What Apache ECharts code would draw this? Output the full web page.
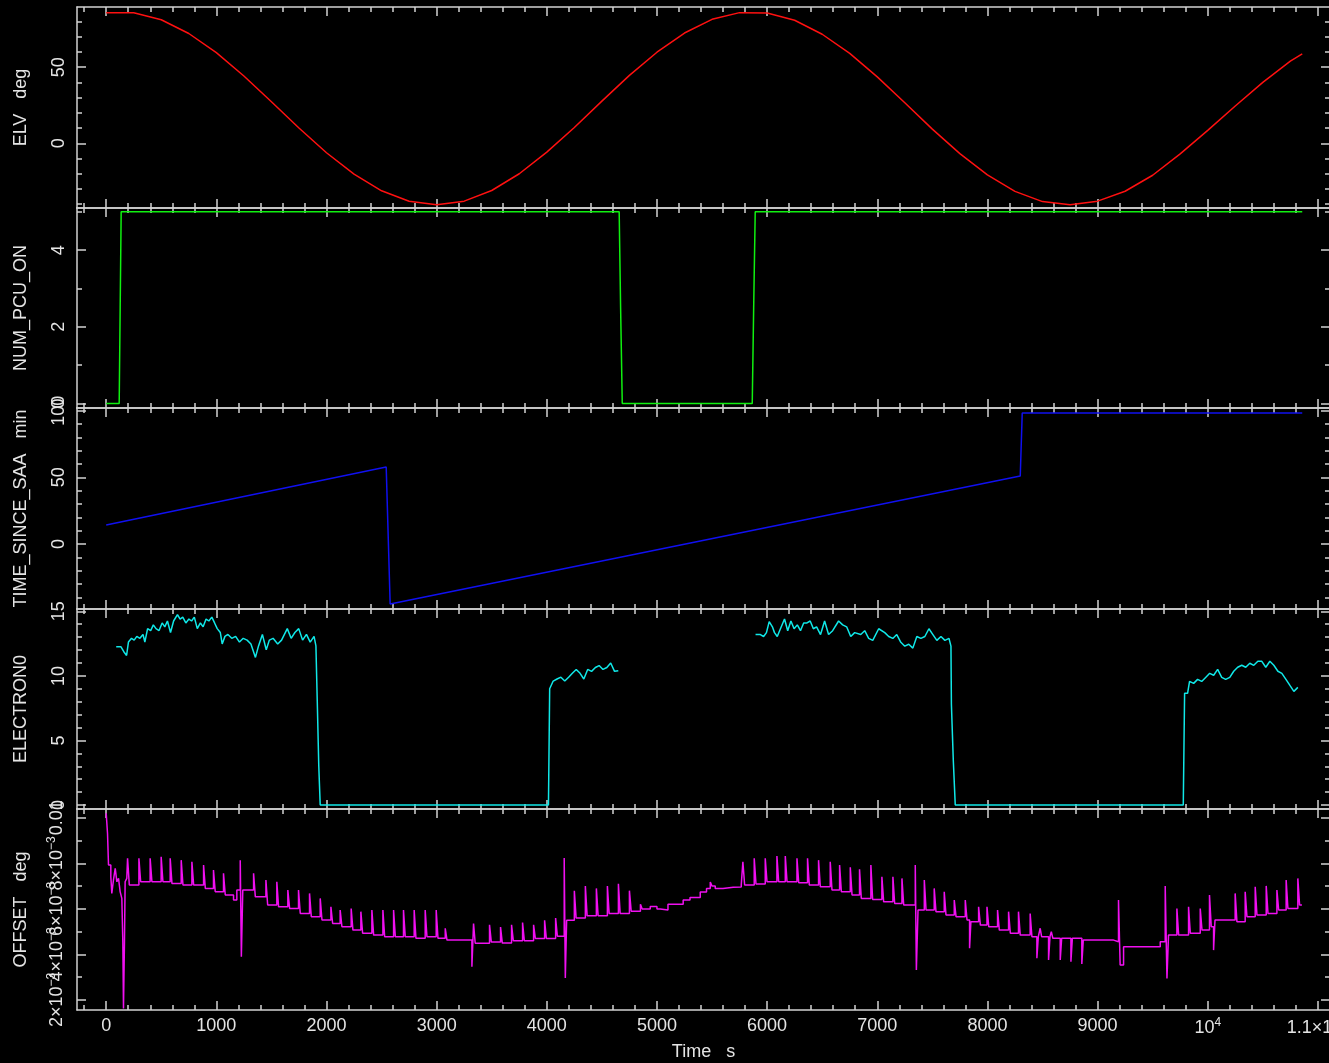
<!DOCTYPE html>
<html><head><meta charset="utf-8">
<script src="https://cdn.jsdelivr.net/npm/echarts@6/dist/echarts.min.js"></script>
<style>html,body{margin:0;padding:0;background:#000}#c{width:1329px;height:1063px}</style>
</head><body><div id="c"></div><script>
// ---------- data (time in s) ----------
const elvData = [[0,85.7],[250,85.7],[500,81.1],[750,72.1],[1000,59.5],[1250,44.2],[1500,27.3],[1750,10.0],[2000,-6.2],[2250,-20.3],[2500,-31.2],[2750,-38.1],[3000,-40.3],[3250,-38.0],[3500,-31.0],[3750,-20.0],[4000,-5.8],[4250,10.4],[4500,27.7],[4750,44.6],[5000,59.8],[5250,72.4],[5500,81.4],[5750,85.8],[6000,85.6],[6250,80.8],[6500,71.6],[6750,59.0],[7000,43.6],[7250,26.6],[7500,9.3],[7750,-6.8],[8000,-20.8],[8250,-31.6],[8500,-38.3],[8750,-40.3],[9000,-38.0],[9250,-31.5],[9500,-21.0],[9750,-7.0],[10000,8.5],[10250,24.5],[10500,40.0],[10750,54.0],[10858,58.7]];

const pcuData = [[0,0],[118,0],[127,2.5],[136,5],[4657,5],[4670,2.5],[4685,0],[5865,0],[5878,2.5],[5892,5],[10858,5]];

const saaData = [[0,14.2],[2542,57.7],[2578,-45],[8298,51],[8316,98.2],[10858,98.2]];

const elecData = [[91,12.26],[133,12.26],[160,11.87],[185,11.58],[202,12.62],[230,12.91],[254,12.77],[278,13.06],[306,12.91],[334,13.21],[351,12.62],[376,13.66],[404,13.51],[428,13.95],[452,13.66],[480,13.51],[508,14.10],[532,13.80],[556,14.25],[584,13.36],[612,14.25],[647,14.75],[671,14.40],[695,14.55],[723,14.10],[751,14.40],[775,14.25],[800,14.55],[827,13.66],[855,14.10],[880,13.80],[907,14.40],[932,14.25],[959,14.55],[984,14.10],[1008,13.66],[1036,13.36],[1053,12.47],[1078,13.06],[1105,13.21],[1140,12.91],[1175,13.06],[1210,12.62],[1244,12.91],[1279,12.77],[1314,12.47],[1355,11.43],[1383,12.32],[1418,13.21],[1453,12.02],[1481,12.77],[1515,12.91],[1557,12.47],[1592,12.77],[1644,13.66],[1679,12.91],[1713,13.36],[1748,13.66],[1783,12.77],[1818,13.21],[1852,12.62],[1887,13.06],[1904,12.32],[1916,8.1],[1930,3],[1943,0],[4015,0],[4026,9.0],
[4034,9.0],[4058,9.6],[4093,9.76],[4128,9.9],[4163,9.6],[4198,9.9],[4232,10.2],[4267,10.5],[4302,10.2],[4336,9.76],[4371,10.5],[4406,10.35],[4441,10.65],[4475,10.8],[4510,10.5],[4545,10.65],[4580,11.0],[4615,10.35],[4649,10.4],[4660,null],
[5895,13.2],[5939,13.2],[5968,13.05],[5994,13.35],[6019,14.2],[6048,13.8],[6067,13.35],[6092,13.05],[6121,13.65],[6158,14.4],[6187,13.5],[6216,14.25],[6245,13.65],[6274,13.95],[6303,13.5],[6332,14.1],[6362,14.1],[6391,14.25],[6420,13.65],[6449,13.8],[6485,13.2],[6522,14.25],[6558,13.2],[6595,13.5],[6649,14.25],[6686,13.95],[6722,13.8],[6759,13.05],[6795,13.35],[6850,13.2],[6886,13.5],[6922,12.9],[6959,12.75],[7013,13.65],[7068,13.35],[7104,13.05],[7141,12.9],[7177,13.2],[7214,12.6],[7250,12.3],[7286,12.45],[7323,12.15],[7359,13.05],[7396,12.9],[7432,13.05],[7469,13.65],[7505,13.2],[7541,12.75],[7578,13.05],[7614,12.75],[7651,12.9],[7669,12.3],[7673,7.8],[7690,3.5],[7708,0],[9778,0],[9790,8.65],
[9806,8.65],[9817,8.65],[9835,9.57],[9872,9.42],[9908,9.73],[9945,9.57],[9981,9.88],[10018,10.2],[10054,10.05],[10090,10.51],[10127,9.88],[10163,9.73],[10200,9.88],[10236,10.36],[10272,10.67],[10309,10.82],[10345,10.67],[10382,10.98],[10418,10.82],[10455,11.13],[10491,11.13],[10527,10.67],[10564,11.13],[10600,10.82],[10637,10.36],[10673,10.2],[10710,9.73],[10746,9.26],[10782,8.8],[10818,9.11]];

const offsetData = [[0,0.01020],[12,0.00932],[21,0.00793],[42,0.00741],[51,0.00668],[66,0.00727],[82,0.00778],[97,0.00719],[112,0.00734],[127,0.00675],[142,0.00646],[151,0.00456],[157,0.00163],[166,0.00456],[172,0.00719],[187,0.00734],
[194,0.00822],[210,0.00705],[297,0.00822],[313,0.00719],[399,0.00822],[415,0.00719],[499,0.00829],[515,0.00719],[581,0.00822],[597,0.00712],[681,0.00814],[697,0.00705],[778,0.00807],[794,0.00705],[884,0.00793],[900,0.00690],[974,0.00771],[990,0.00675],[1065,0.00756],[1081,0.00661],[1156,0.00639],[1186,0.00683],[1217,0.00814],[1227,0.00390],[1240,0.00683],[1338,0.00756],[1354,0.00653],[1450,0.00727],[1466,0.00617],[1549,0.00719],[1565,0.00609],[1649,0.00683],[1665,0.00602],[1746,0.00683],[1762,0.00580],[1846,0.00668],[1862,0.00566],[1943,0.00646],[1959,0.00551],[2040,0.00609],[2056,0.00536],[2124,0.00595],[2140,0.00522],[2224,0.00602],[2240,0.00507],[2312,0.00588],[2328,0.00493],[2412,0.00595],[2428,0.00485],[2512,0.00595],[2528,0.00478],[2609,0.00595],[2625,0.00478],[2699,0.00595],[2715,0.00478],[2796,0.00595],[2812,0.00471],[2896,0.00595],[2912,0.00478],[2996,0.00595],[3012,0.00471],[3078,0.00515],[3094,0.00463],[3300,0.00463],[3320,0.00346],[3335,0.00536],[3350,0.00449],
[3480,0.0053],[3496,0.00455],[3580,0.0052],[3596,0.0045],[3680,0.0053],[3696,0.0046],[3780,0.0054],[3796,0.0046],[3880,0.0053],[3896,0.0047],[3980,0.0055],[3996,0.0047],[4080,0.0056],[4096,0.0048],[4158,0.00823],[4168,0.00297],[4180,0.0055],
[4250,0.0068],[4266,0.0056],[4350,0.0070],[4366,0.0057],[4450,0.0069],[4466,0.0057],[4550,0.0070],[4566,0.0058],[4650,0.0071],[4666,0.0058],[4750,0.0068],[4766,0.0059],[4850,0.0062],[4866,0.0060],
[4939,0.0061],[5000,0.0060],[5030,0.00595],[5100,0.0062],[5238,0.00639],[5300,0.0065],[5393,0.00674],[5450,0.0069],[5484,0.00718],[5500,0.0070],[5529,0.00690],[5600,0.00695],[5692,0.00696],[5765,0.00705],
[5780,0.00807],[5796,0.00705],[5883,0.00822],[5899,0.00709],[5983,0.00822],[5999,0.00719],[6089,0.00832],[6105,0.00719],[6165,0.00832],[6181,0.00719],[6271,0.00822],[6287,0.00715],[6367,0.00822],[6383,0.00705],[6467,0.00814],[6483,0.00697],[6573,0.00807],[6589,0.00683],[6658,0.00793],[6674,0.00675],[6755,0.00783],[6771,0.00661],[6839,0.00774],[6855,0.00646],[6942,0.00793],[6958,0.00641],[7042,0.00741],[7058,0.00631],[7142,0.00741],[7158,0.00624],[7224,0.00734],[7240,0.00617],[7345,0.00793],[7355,0.00332],[7370,0.00595],
[7427,0.00727],[7443,0.00595],[7517,0.00690],[7533,0.00588],[7608,0.00675],[7624,0.00573],[7699,0.00639],[7715,0.00566],[7799,0.00639],[7815,0.00551],[7838,0.00427],[7850,0.00544],[7920,0.00609],[7936,0.00529],[7996,0.00609],[8012,0.00522],[8092,0.00595],[8108,0.00507],[8192,0.00588],[8208,0.00493],[8282,0.00588],[8298,0.00485],[8388,0.00580],[8404,0.00478],[8449,0.00383],[8462,0.00478],[8479,0.00515],[8492,0.00478],[8555,0.00376],[8568,0.00478],[8580,0.00500],[8594,0.00471],[8661,0.00376],[8674,0.00471],[8758,0.00368],[8771,0.00471],[8857,0.00358],[8870,0.00463],[9145,0.00456],[9190,0.00639],[9205,0.00354],[9236,0.00434],[9569,0.00456],[9614,0.00701],[9630,0.00295],[9644,0.00485],
[9720,0.00602],[9736,0.00485],[9826,0.00609],[9842,0.00493],[9932,0.00602],[9948,0.00507],[10016,0.00661],[10032,0.00522],[10053,0.00419],[10066,0.00551],[10249,0.00668],[10265,0.00544],[10340,0.00675],[10356,0.00566],[10431,0.00697],[10447,0.00573],[10531,0.00701],[10547,0.00580],[10628,0.00683],[10644,0.00595],[10712,0.00727],[10728,0.00602],[10818,0.00734],[10834,0.00617],[10855,0.00617]];

// ---------- ticks & labels ----------
const xMajorTicks = [0,1000,2000,3000,4000,5000,6000,7000,8000,9000,10000,11000];
const xTickLabels = ['0','1000','2000','3000','4000','5000','6000','7000','8000','9000','{b|10}{s|4}','{b|1.1×10}{s|4}'];
const xMinorStep = 200;
const panelNames = ['ELV   deg','NUM_PCU_ON','TIME_SINCE_SAA   min','ELECTRON0','OFFSET   deg'];
const panelRanges = [[-42.5,89.5],[-0.12,5.1],[-48.7,102],[-0.31,15.18],[0.001561,0.010386]];
const yMajorTicks = [[0,50],[0,2,4],[0,50,100],[0,5,10,15],[0.002,0.004,0.006,0.008,0.01]];
const yMinorTicks = [[-40,-30,-20,-10,10,20,30,40,60,70,80],[1,3,5],[-40,-30,-20,-10,10,20,30,40,60,70,80,90],[1,2,3,4,6,7,8,9,11,12,13,14],[0.003,0.005,0.007,0.009]];
const offsetTickLabels = ['{b|2×10}{s|−3}','{b|4×10}{s|−3}','{b|6×10}{s|−3}','{b|8×10}{s|−3}','{b|0.01}'];
const xAxisName = 'Time   s';

// ---------- layout ----------
const X_MIN = -265, X_MAX = 11110;
const tops = [7,208,408,609,809];
const heights = [201,200,201,200,201];
const FONT = 'Liberation Sans';
const AX = '#d2d2d2';
const TXT = '#e4e4e4';
const colors = ['#ff1010','#10f010','#1010f0','#10e8e8','#f010f0'];

const xMinor = [];
for (let v = -200; v < X_MAX; v += xMinorStep) if (v % 1000 !== 0) xMinor.push(v);

const rich = {
  b:{fontSize:18,fontFamily:FONT,color:TXT,lineHeight:22},
  s:{fontSize:12,fontFamily:FONT,color:TXT,lineHeight:12,verticalAlign:'top'}
};

const grids = [], xAxes = [], yAxes = [], series = [];
const yLabelStyle = (vals, fmt) => ({show:true,customValues:vals,formatter:fmt,rotate:90,margin:9,color:TXT,fontSize:18,fontFamily:FONT,rich:rich,showMinLabel:true,showMaxLabel:true,hideOverlap:false});
const offsetLab = v => offsetTickLabels[yMajorTicks[4].indexOf(v)];
for (let i = 0; i < 5; i++) {
  grids.push({left:77, right:-1, top:tops[i], height:heights[i], containLabel:false, outerBoundsMode:'none'});
  const line = {show:true,onZero:false,lineStyle:{color:AX,width:1.5}};
  const noLine = {show:false,onZero:false};
  const baseX = {type:'value',gridIndex:i,min:X_MIN,max:X_MAX,splitLine:{show:false},axisLabel:{show:false}};
  const xLabelMap = {};
  xMajorTicks.forEach((v,k)=>xLabelMap[v]=xTickLabels[k]);
  xAxes.push(Object.assign({}, baseX, {position:'bottom',axisLine:line,
    axisTick:{show:true,inside:true,length:9,customValues:xMajorTicks,lineStyle:{color:AX,width:1.5}},
    axisLabel:{show:i===4,customValues:xMajorTicks,formatter:v=>xLabelMap[v],margin:7,color:TXT,fontSize:18,fontFamily:FONT,rich:rich,showMinLabel:true,showMaxLabel:true,hideOverlap:false},
    name:i===4?xAxisName:'',nameLocation:'middle',nameGap:33,nameTextStyle:{color:TXT,fontSize:18,fontFamily:FONT}}));
  xAxes.push(Object.assign({}, baseX, {position:'top',axisLine:line,
    axisTick:{show:true,inside:true,length:9,customValues:xMajorTicks,lineStyle:{color:AX,width:1.5}}}));
  xAxes.push(Object.assign({}, baseX, {position:'bottom',axisLine:noLine,
    axisTick:{show:true,inside:true,length:5,customValues:xMinor,lineStyle:{color:AX,width:1.5}}}));
  xAxes.push(Object.assign({}, baseX, {position:'top',axisLine:noLine,
    axisTick:{show:true,inside:true,length:5,customValues:xMinor,lineStyle:{color:AX,width:1.5}}}));

  const r = panelRanges[i];
  const baseY = {type:'value',gridIndex:i,min:r[0],max:r[1],splitLine:{show:false},axisLabel:{show:false}};
  const mainLabels = i===4 ? yLabelStyle([0.002,0.006,0.01], offsetLab) : yLabelStyle(yMajorTicks[i], v=>String(v));
  yAxes.push(Object.assign({}, baseY, {position:'left',axisLine:line,
    axisTick:{show:true,inside:true,length:9,customValues:yMajorTicks[i],lineStyle:{color:AX,width:1.5}},
    axisLabel:mainLabels,
    name:panelNames[i],nameLocation:'middle',nameRotate:90,nameGap:47,nameTextStyle:{color:TXT,fontSize:18,fontFamily:FONT}}));
  yAxes.push(Object.assign({}, baseY, {position:'right',axisLine:line,
    axisTick:{show:true,inside:true,length:9,customValues:yMajorTicks[i],lineStyle:{color:AX,width:1.5}}}));
  yAxes.push(Object.assign({}, baseY, {position:'left',axisLine:noLine,
    axisTick:{show:true,inside:true,length:5,customValues:yMinorTicks[i],lineStyle:{color:AX,width:1.5}}}));
  yAxes.push(Object.assign({}, baseY, {position:'right',axisLine:noLine,
    axisTick:{show:true,inside:true,length:5,customValues:yMinorTicks[i],lineStyle:{color:AX,width:1.5}}}));
}
// extra label-only axis for the interleaved OFFSET labels (so none are dropped for overlap)
yAxes.push({type:'value',gridIndex:4,min:panelRanges[4][0],max:panelRanges[4][1],position:'left',
  splitLine:{show:false},axisLine:{show:false,onZero:false},axisTick:{show:false},
  axisLabel:yLabelStyle([0.004,0.008], offsetLab)});

const allData = [elvData,pcuData,saaData,elecData,offsetData];
for (let i = 0; i < 5; i++) {
  series.push({type:'line',xAxisIndex:4*i,yAxisIndex:4*i,data:allData[i],showSymbol:false,symbol:'none',
    step:i===4?'end':false,connectNulls:false,clip:true,
    lineStyle:{color:colors[i],width:1.5},silent:true});
}
const chart = echarts.init(document.getElementById('c'),null,{renderer:'canvas'});
chart.setOption({backgroundColor:'#000',animation:false,grid:grids,xAxis:xAxes,yAxis:yAxes,series:series});
</script></body></html>
